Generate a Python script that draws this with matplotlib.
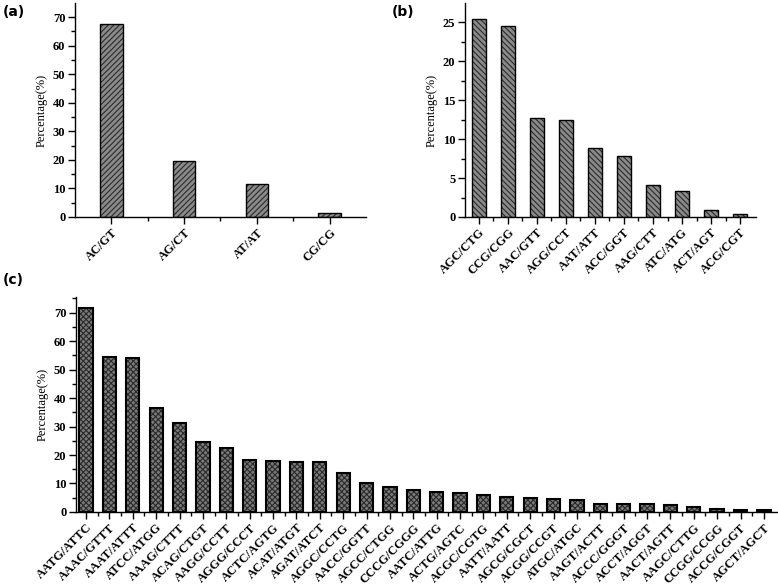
import numpy as np
import matplotlib
matplotlib.use("Agg")
import matplotlib.pyplot as plt

plt.rcParams['font.family'] = ['Liberation Serif', 'DejaVu Serif']
plt.rcParams['hatch.linewidth'] = 0.8

# (a) dinucleotide
a_labels = ['AC/GT', 'AG/CT', 'AT/AT', 'CG/CG']
a_values = [67.5, 19.7, 11.4, 1.5]

# (b) trinucleotide
b_labels = ['AGC/CTG', 'CCG/CGG', 'AAC/GTT', 'AGG/CCT', 'AAT/ATT',
            'ACC/GGT', 'AAG/CTT', 'ATC/ATG', 'ACT/AGT', 'ACG/CGT']
b_values = [25.4, 24.5, 12.7, 12.4, 8.8, 7.8, 4.1, 3.4, 0.85, 0.4]

# (c) tetranucleotide
c_labels = ['AATG/ATTC', 'AAAC/GTTT', 'AAAT/ATTT', 'ATCC/ATGG', 'AAAG/CTTT',
            'ACAG/CTGT', 'AAGG/CCTT', 'AGGG/CCCT', 'ACTC/AGTG', 'ACAT/ATGT',
            'AGAT/ATCT', 'AGGC/CCTG', 'AACC/GGTT', 'AGCC/CTGG', 'CCCG/CGGG',
            'AATC/ATTG', 'ACTG/AGTC', 'ACGC/CGTG', 'AATT/AATT', 'AGCG/CGCT',
            'ACGG/CCGT', 'ATGC/ATGC', 'AAGT/ACTT', 'ACCC/GGGT', 'ACCT/AGGT',
            'AACT/AGTT', 'AAGC/CTTG', 'CCGG/CCGG', 'ACCG/CGGT', 'AGCT/AGCT']
c_values = [71.5, 54.5, 54.0, 36.4, 31.2, 24.7, 22.3, 18.2, 18.0, 17.4,
            17.4, 13.7, 10.1, 8.9, 7.7, 7.1, 6.7, 6.0, 5.1, 4.8,
            4.6, 4.1, 2.9, 2.7, 2.7, 2.3, 1.6, 0.9, 0.6, 0.6]

fig = plt.figure(figsize=(7.78, 5.88), dpi=100)
ax_a = fig.add_axes([0.0964, 0.631, 0.374, 0.364])
ax_b = fig.add_axes([0.5977, 0.631, 0.374, 0.364])
ax_c = fig.add_axes([0.0977, 0.1293, 0.901, 0.3656])


def draw(ax, labels, values, width, hatch, xlim, ylim, ymaj, face, lw_edge):
    x = np.arange(len(labels))
    ax.bar(x, values, width, color=face, edgecolor='#2a2a2a', hatch=hatch, linewidth=0)
    ax.bar(x, values, width, fill=False, edgecolor='black', linewidth=lw_edge)
    ax.set_xlim(*xlim)
    ax.set_ylim(*ylim)
    for s in ['top', 'right']:
        ax.spines[s].set_visible(False)
    for s in ['left', 'bottom']:
        ax.spines[s].set_linewidth(1.0)
    ax.set_xticks(x)
    ax.set_xticks(x[:-1] + 0.5, minor=True)
    ax.set_xticklabels(labels, rotation=45, ha='right', rotation_mode='anchor',
                       fontsize=9, fontweight='bold')
    ax.set_yticks(np.arange(0, ylim[1], ymaj))
    ax.set_yticks(np.arange(ymaj / 2, ylim[1], ymaj), minor=True)
    for lab in ax.get_yticklabels():
        lab.set_fontsize(9)
        lab.set_fontweight('bold')
    ax.tick_params(which='major', direction='out', length=5, width=1.0, pad=2)
    ax.tick_params(which='minor', direction='out', length=3, width=1.0)
    ax.set_ylabel('Percentage(%)', fontsize=9, labelpad=4)


draw(ax_a, a_labels, a_values, 0.31, '//////', (-0.5, 3.5), (0, 75), 10, '#8a8a8a', 1.0)
draw(ax_b, b_labels, b_values, 0.51, '\\\\\\\\\\\\', (-0.48, 9.55), (0, 27.5), 5, '#8a8a8a', 1.0)
draw(ax_c, c_labels, c_values, 0.57, 'xxxxxx', (-0.43, 29.56), (0, 75.5), 10, '#7a7a7a', 1.5)

fig.text(0.003, 0.992, '(a)', fontsize=10, fontweight='bold', family='DejaVu Sans', va='top')
fig.text(0.503, 0.992, '(b)', fontsize=10, fontweight='bold', family='DejaVu Sans', va='top')
fig.text(0.003, 0.535, '(c)', fontsize=10, fontweight='bold', family='DejaVu Sans', va='top')

fig.savefig('out.png', dpi=100)
